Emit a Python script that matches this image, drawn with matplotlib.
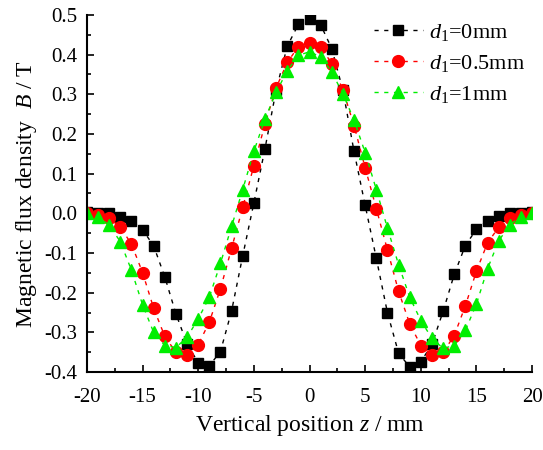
import numpy as np
import matplotlib
matplotlib.use('Agg')
import matplotlib.pyplot as plt
from matplotlib.ticker import MultipleLocator, FormatStrFormatter

plt.rcParams['font.family'] = 'Liberation Serif'
plt.rcParams['mathtext.fontset'] = 'custom'
plt.rcParams['mathtext.rm'] = 'Liberation Serif'
plt.rcParams['mathtext.it'] = 'Liberation Serif:italic'
plt.rcParams['axes.unicode_minus'] = False

# vertical position z (mm)
z = np.arange(-20, 21)

# d1 = 0 mm
b_0 = [0.003, 0.0, 0.0, -0.008, -0.02, -0.041, -0.082, -0.16, -0.253, -0.329,
       -0.376, -0.384, -0.348, -0.246, -0.107, 0.026, 0.163, 0.31, 0.421, 0.476,
       0.49, 0.475, 0.415, 0.31, 0.156, 0.02, -0.113, -0.25, -0.352, -0.387,
       -0.374, -0.33, -0.247, -0.154, -0.081, -0.04, -0.019, -0.006, 0.0, 0.002, 0.003]
# d1 = 0.5 mm
b_05 = [0.0, -0.003, -0.012, -0.035, -0.077, -0.149, -0.239, -0.31, -0.35, -0.357,
        -0.331, -0.274, -0.19, -0.088, 0.015, 0.12, 0.225, 0.316, 0.38, 0.42,
        0.43, 0.42, 0.377, 0.311, 0.221, 0.115, 0.012, -0.092, -0.196, -0.278,
        -0.333, -0.357, -0.35, -0.308, -0.233, -0.145, -0.074, -0.035, -0.012, -0.003, 0.0]
# d1 = 1 mm
b_1 = [0.0, -0.008, -0.03, -0.071, -0.143, -0.23, -0.3, -0.333, -0.338, -0.312,
       -0.266, -0.211, -0.126, -0.033, 0.06, 0.156, 0.238, 0.305, 0.359, 0.398,
       0.407, 0.394, 0.356, 0.301, 0.235, 0.153, 0.06, -0.037, -0.129, -0.211,
       -0.27, -0.315, -0.34, -0.333, -0.295, -0.228, -0.139, -0.069, -0.029, -0.008, 0.0]

fig = plt.figure(figsize=(5.43, 4.5), dpi=100)
ax = fig.add_axes([0.160, 0.173, 0.82, 0.794])

ls = (0, (3, 4))
ax.plot(z, b_0, color='black', linestyle=ls, linewidth=1, marker='s', markersize=7,
        label=r'$d_1$=0mm')
ax.plot(z, b_05, color='red', linestyle=ls, linewidth=1, marker='o', markersize=8.5,
        label=r'$d_1$=0.5mm')
ax.plot(z, b_1, color='#00ee00', linestyle=ls, linewidth=1, marker='^', markersize=9,
        label=r'$d_1$=1mm')

ax.set_xlim(-20, 20)
ax.set_ylim(-0.4, 0.5)
ax.xaxis.set_major_locator(MultipleLocator(5))
ax.xaxis.set_minor_locator(MultipleLocator(2.5))
ax.yaxis.set_major_locator(MultipleLocator(0.1))
ax.yaxis.set_minor_locator(MultipleLocator(0.05))
ax.yaxis.set_major_formatter(FormatStrFormatter('%.1f'))

ax.spines['top'].set_visible(False)
ax.spines['right'].set_visible(False)
for s in ['left', 'bottom']:
    ax.spines[s].set_linewidth(1.5)
ax.tick_params(which='both', direction='in', width=1.2, labelsize=15)
ax.tick_params(which='major', length=5)
ax.tick_params(which='minor', length=3)
ax.tick_params(axis='x', which='major', pad=11.5)
ax.tick_params(axis='y', which='major', pad=7)

ax.set_xlabel(r'Vertical position $z$ / mm', fontsize=17, labelpad=4)
ax.set_ylabel(r'Magnetic flux density  $B$ / T', fontsize=17, labelpad=4)

ax.legend(loc='upper right', frameon=False, fontsize=16, handlelength=2.2,
          labelspacing=0.45, borderaxespad=0.1, handletextpad=0.3,
          borderpad=0.2)

fig.savefig('out.png', dpi=100)
